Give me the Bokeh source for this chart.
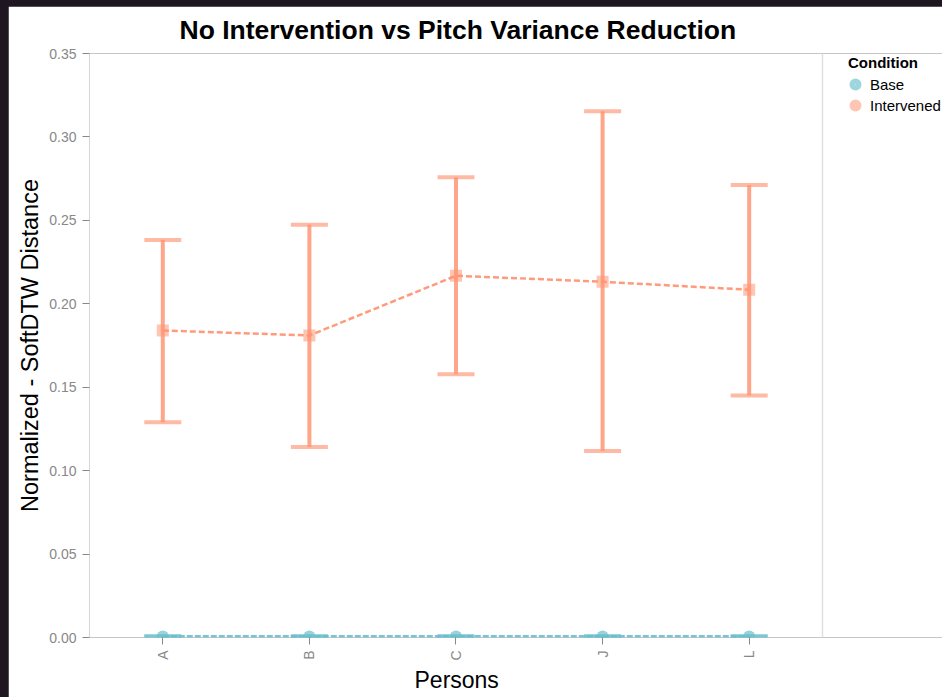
from bokeh.plotting import figure
from bokeh.models import (ColumnDataSource, Range1d, Legend, LegendItem, NumeralTickFormatter,
                          FixedTicker, Span, Title)
from bokeh.embed import file_html
from bokeh.resources import INLINE
import math

persons = ["A", "B", "C", "J", "L"]
conditions = ["Base", "Intervened"]
base_mean = [0.0006, 0.0006, 0.0006, 0.0006, 0.0006]
base_lower = [0.0003, 0.0003, 0.0003, 0.0003, 0.0003]
base_upper = [0.0009, 0.0009, 0.0009, 0.0009, 0.0009]
int_mean = [0.184, 0.181, 0.2168, 0.2132, 0.2084]
int_lower = [0.129, 0.1141, 0.1577, 0.1117, 0.1451]
int_upper = [0.2383, 0.2473, 0.2759, 0.3154, 0.2712]
y_ticks = [0.0, 0.05, 0.10, 0.15, 0.20, 0.25, 0.30, 0.35]

BASE = "#6cbfcc"
INTV = "#ff9574"
FONT = "Liberation Sans"

n = len(persons)
xs = list(range(n))
# the plotting band covers the persons; the frame continues to the right to hold the legend
x_lo, x_hi = -0.5, n - 0.5
legend_room = 0.8186  # in band units (legend column on the right)

p = figure(width=934, height=691, x_range=Range1d(x_lo, x_hi + legend_room),
           y_range=Range1d(0, 0.35), output_backend="svg", toolbar_location=None,
           min_border_left=81, min_border_right=0, min_border_top=47, min_border_bottom=58)
p.title.text = "No Intervention vs Pitch Variance Reduction"
p.title.align = "left"
p.title.offset = 90
p.title.vertical_align = "top"
p.title.text_font = FONT
p.title.text_font_size = "26.5px"
p.title.text_font_style = "bold"
p.title.text_color = "#000000"
p.title.standoff = 14

p.background_fill_color = "white"
p.border_fill_color = "white"
p.outline_line_color = None
p.outline_line_alpha = 0
p.xgrid.visible = False
p.ygrid.visible = False

p.add_layout(Span(location=x_hi, dimension="height", line_color="#e0e0e0", line_width=1.5))

src_b = ColumnDataSource(dict(x=xs, m=base_mean, lo=base_lower, hi=base_upper))
src_i = ColumnDataSource(dict(x=xs, m=int_mean, lo=int_lower, hi=int_upper))

p.line(x="x", y="m", source=src_b, line_color=BASE, line_width=3, line_dash="6 2", line_alpha=0.9)
for src, col in ((src_b, BASE), (src_i, INTV)):
    p.segment(x0="x", y0="lo", x1="x", y1="hi", source=src, line_color=col, line_width=4, line_alpha=0.85)
    p.rect(x="x", y="hi", width=37, height=4, width_units="screen", height_units="screen",
           source=src, fill_color=col, line_color=None, fill_alpha=0.65)
    p.rect(x="x", y="lo", width=37, height=4, width_units="screen", height_units="screen",
           source=src, fill_color=col, line_color=None, fill_alpha=0.65)
p.line(x="x", y="m", source=src_i, line_color=INTV, line_width=2.5, line_dash="6 3", line_alpha=0.95)

p.scatter(x="x", y="m", source=src_b, marker="circle", size=12, fill_color=BASE, line_color=None, fill_alpha=0.7)
p.scatter(x="x", y="m", source=src_i, marker="square", size=12, fill_color=INTV, line_color=None, fill_alpha=0.55)

# legend swatches (renderers kept outside the visible range, only drawn in the legend)
items = []
for name, col, a in zip(conditions, (BASE, INTV), (0.65, 0.55)):
    r = p.scatter(x=[0], y=[-1.0], marker="circle", size=6, fill_color=None,
                  line_color=col, line_alpha=a, line_width=6.4)
    items.append(LegendItem(label=name, renderers=[r]))

legend = Legend(items=items, location=(759, 522), title="Condition", orientation="vertical")
legend.title_text_font = FONT
legend.title_text_font_size = "15px"
legend.title_text_font_style = "bold"
legend.title_text_color = "#000000"
legend.title_standoff = 3
legend.label_text_font = FONT
legend.label_text_font_size = "15px"
legend.label_text_color = "#000000"
legend.glyph_width = 14
legend.glyph_height = 20
legend.label_height = 20
legend.label_standoff = 8
legend.spacing = 1
legend.padding = 0
legend.margin = 0
legend.background_fill_alpha = 0
legend.border_line_color = None
p.add_layout(legend, "center")

ya = p.yaxis[0]
ya.ticker = y_ticks
ya.formatter = NumeralTickFormatter(format="0.00")
ya.axis_label = "Normalized - SoftDTW Distance"
ya.axis_label_text_font = FONT
ya.axis_label_text_font_size = "23.5px"
ya.axis_label_text_font_style = "normal"
ya.axis_label_text_color = "#000000"
ya.axis_label_standoff = 3
ya.major_label_text_font = FONT
ya.major_label_text_font_size = "14px"
ya.major_label_text_color = "#888888"
ya.major_label_standoff = 6
ya.axis_line_color = "#d6d6d6"
ya.major_tick_line_color = "#888888"
ya.major_tick_out = 7
ya.major_tick_in = 0
ya.minor_tick_line_color = None

xa = p.xaxis[0]
xa.ticker = FixedTicker(ticks=xs)
xa.major_label_overrides = {i: name for i, name in zip(xs, persons)}
xa.major_label_text_font = FONT
xa.major_label_text_font_size = "14px"
xa.major_label_text_color = "#888888"
xa.major_label_orientation = math.pi / 2
xa.major_label_standoff = 6
xa.axis_line_color = None
xa.major_tick_line_color = "#888888"
xa.major_tick_out = 7
xa.major_tick_in = 0
xa.minor_tick_line_color = None

x_title = Title(text="Persons", align="left", offset=325, vertical_align="top", standoff=6,
                text_font=FONT, text_font_size="23px", text_font_style="normal", text_color="#000000")
p.add_layout(x_title, "below")

html = file_html(p, INLINE)
html = html.replace("</head>", "<style>html, body { background-color: #1e1620 !important; } body { margin: 6px 0 0 8px !important; overflow: hidden; }</style></head>", 1)
open("out.html", "w").write(html)
